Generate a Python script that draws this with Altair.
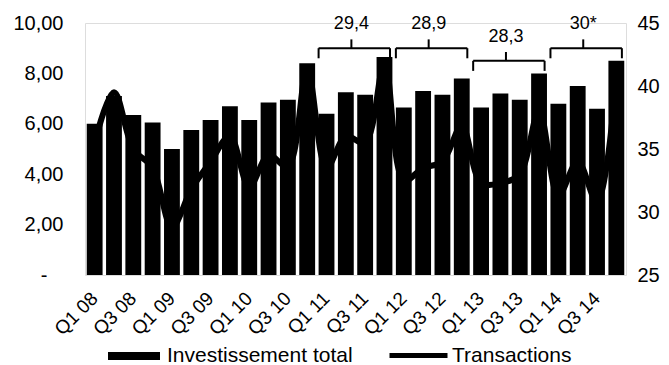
import altair as alt
import pandas as pd

# Quarterly series
quarters = [f"Q{q} {y:02d}" for y in range(8, 15) for q in range(1, 5)]
invest = [6.0, 7.1, 6.35, 6.05, 5.0, 5.75, 6.15, 6.7,
          6.15, 6.85, 6.95, 8.4, 6.4, 7.25, 7.15, 8.65,
          6.65, 7.3, 7.15, 7.8, 6.65, 7.2, 6.95, 8.0,
          6.8, 7.5, 6.6, 8.5]
transactions = [35.5, 39.5, 35.0, 33.5, 28.8, 31.8, 34.0, 36.0,
                32.0, 34.5, 33.6, 41.3, 33.5, 36.0, 35.5, 41.8,
                32.5, 33.5, 34.0, 36.8, 32.3, 32.3, 33.0, 38.0,
                31.3, 34.0, 30.8, 40.5]

# Annual totals shown above each year's bars
bk_first = ["Q1 11", "Q1 12", "Q1 13", "Q1 14"]
bk_mid = ["Q2 11", "Q2 12", "Q2 13", "Q2 14"]
bk_last = ["Q4 11", "Q4 12", "Q4 13", "Q4 14"]
bk_label = ["29,4", "28,9", "28,3", "30*"]
bk_level = [9.0, 9.0, 8.5, 9.0]

FONT = "Liberation Sans"

df = pd.DataFrame({"quarter": quarters, "invest": invest, "transactions": transactions})
bk = pd.DataFrame({"first": bk_first, "mid": bk_mid, "last": bk_last,
                   "label": bk_label, "level": bk_level})
bk["low"] = bk["level"] - 0.4
bk["top"] = bk["level"] + 0.35
bk["text_y"] = bk["level"] + 0.95

xscale = alt.Scale(domain=quarters, paddingInner=0.18, paddingOuter=0.09)
yscale = alt.Scale(domain=[0, 10], nice=False)
shown = [q for q in quarters if q.startswith("Q1") or q.startswith("Q3")]

bars = alt.Chart(df).transform_calculate(
    serie="'Investissement total'"
).mark_bar(color="black").encode(
    x=alt.X("quarter:N", scale=xscale, sort=None,
            axis=alt.Axis(title=None, values=shown, labelAngle=-45, domain=False,
                          ticks=False, labelFontSize=19, labelPadding=20,
                          labelAlign="right", labelBaseline="middle",
                          labelColor="black", labelFont=FONT)),
    y=alt.Y("invest:Q", scale=yscale,
            axis=alt.Axis(title=None, values=[0, 2, 4, 6, 8, 10], domain=False,
                          ticks=False, grid=False, labelFontSize=20,
                          labelPadding={"condition": {"test": "datum.value == 0", "value": 38},
                                        "value": 22},
                          labelColor="black", labelFont=FONT,
                          labelExpr="datum.value == 0 ? '-' : "
                                    "replace(format(datum.value, '.2f'), '.', ',')")),
    color=alt.Color("serie:N",
                    scale=alt.Scale(domain=["Investissement total"], range=["black"]),
                    legend=alt.Legend(title=None, orient="none", legendX=23, legendY=307,
                                      symbolType="M-1,-0.15L1,-0.15L1,0.15L-1,0.15Z",
                                      symbolSize=2704, symbolStrokeWidth=0,
                                      labelFontSize=21, labelFont=FONT, labelColor="black",
                                      labelOffset=7, labelLimit=400, padding=0)),
)

bx = dict(scale=xscale, title=None)
by = dict(scale=yscale, title=None)

bk_h = alt.Chart(bk).mark_rule(color="black", strokeWidth=2).encode(
    x=alt.X("first:N", bandPosition=0, **bx),
    x2=alt.X2("last:N", bandPosition=0.85),
    y=alt.Y("level:Q", **by),
)
bk_l = alt.Chart(bk).mark_rule(color="black", strokeWidth=2).encode(
    x=alt.X("first:N", bandPosition=0, **bx),
    y=alt.Y("low:Q", **by), y2="level:Q",
)
bk_r = alt.Chart(bk).mark_rule(color="black", strokeWidth=2).encode(
    x=alt.X("last:N", bandPosition=0.85, **bx),
    y=alt.Y("low:Q", **by), y2="level:Q",
)
bk_m = alt.Chart(bk).mark_rule(color="black", strokeWidth=2).encode(
    x=alt.X("mid:N", bandPosition=0.85, **bx),
    y=alt.Y("level:Q", **by), y2="top:Q",
)
bk_t = alt.Chart(bk).mark_text(color="black", fontSize=18, font=FONT, baseline="middle").encode(
    x=alt.X("mid:N", bandPosition=0.85, **bx),
    y=alt.Y("text_y:Q", **by),
    text="label:N",
)

left = alt.layer(bars, bk_h, bk_l, bk_r, bk_m, bk_t)

line = alt.Chart(df).transform_calculate(
    serie_t="'Transactions'"
).mark_line(strokeWidth=6, interpolate="catmull-rom").encode(
    x=alt.X("quarter:N", scale=xscale, title=None),
    y=alt.Y("transactions:Q", scale=alt.Scale(domain=[25, 45], nice=False),
            axis=alt.Axis(title=None, orient="right", values=[25, 30, 35, 40, 45],
                          domain=False, ticks=False, grid=False, labelFontSize=20,
                          labelPadding=11, labelColor="black", labelFont=FONT)),
    stroke=alt.Stroke("serie_t:N",
                      scale=alt.Scale(domain=["Transactions"], range=["black"]),
                      legend=alt.Legend(title=None, orient="none", legendX=302, legendY=301,
                                        symbolType="stroke", symbolSize=3364,
                                        symbolStrokeWidth=5, labelFontSize=21,
                                        labelFont=FONT, labelColor="black",
                                        labelOffset=2, labelLimit=400, padding=0)),
)

chart = alt.layer(left, line).resolve_scale(
    y="independent", color="independent", stroke="independent"
).properties(
    width=541, height=252,
    padding={"left": 85, "top": 23, "right": 43, "bottom": 90},
    autosize="none",
).configure_view(stroke=None).configure(background="white")

chart.save("out.html", embed_options={"renderer": "svg", "actions": False})
